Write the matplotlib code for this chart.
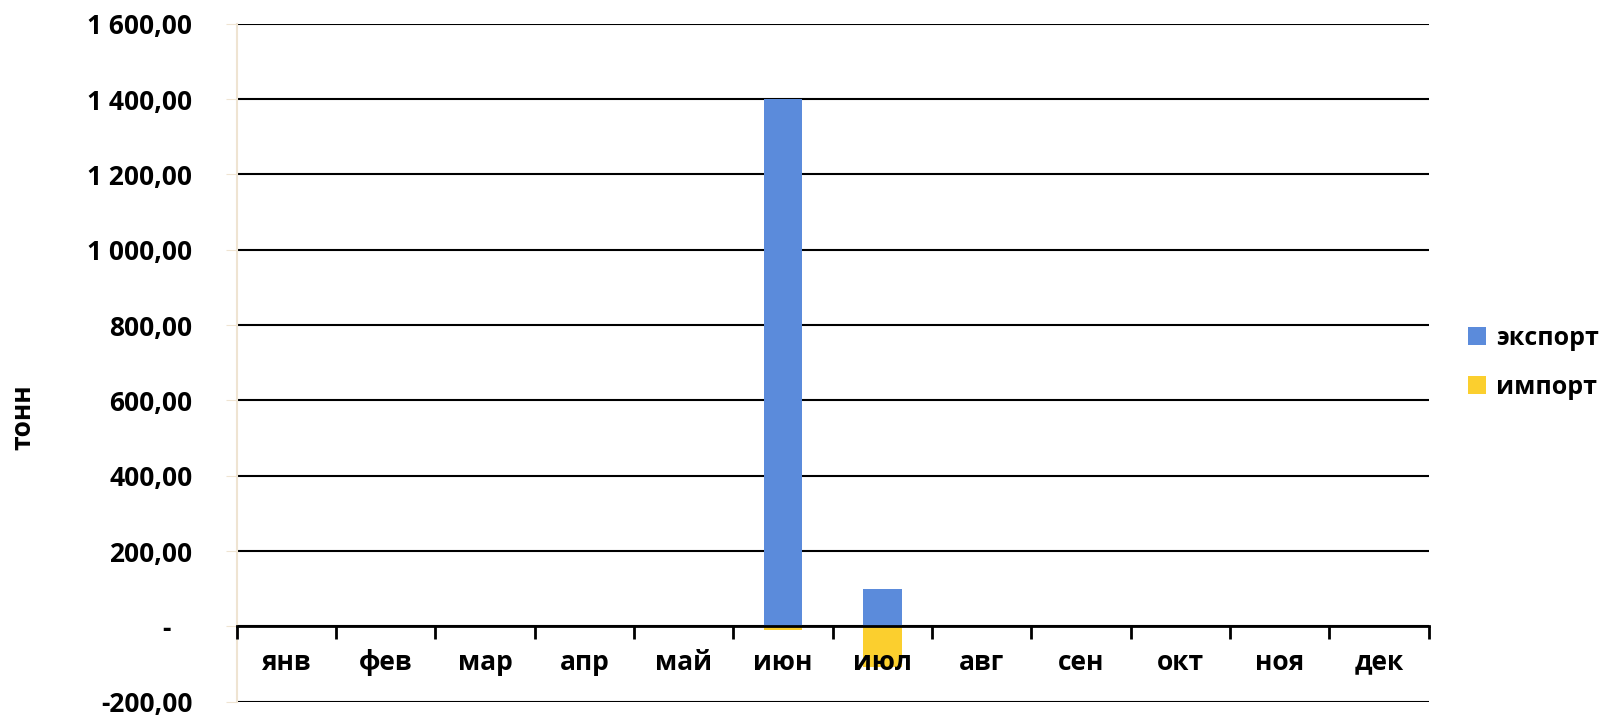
import matplotlib.pyplot as plt
import matplotlib.ticker as mticker

months = ['янв', 'фев', 'мар', 'апр', 'май', 'июн', 'июл', 'авг', 'сен', 'окт', 'ноя', 'дек']
export_vals = [0, 0, 0, 0, 0, 1400, 100, 0, 0, 0, 0, 0]
import_vals = [0, 0, 0, 0, 0, -8, -107, 0, 0, 0, 0, 0]
y_ticks = [-200, 0, 200, 400, 600, 800, 1000, 1200, 1400, 1600]

plt.rcParams['font.family'] = ['Open Sans', 'DejaVu Sans']
plt.rcParams['font.weight'] = 'bold'

fig = plt.figure(figsize=(16.08, 7.18), dpi=100)
ax = fig.add_axes([0.1472, 0.0225, 0.8884 - 0.1472, 0.967 - 0.0225])

x = list(range(len(months)))
ax.bar(x, export_vals, width=0.39, color='#5B8BDB', label='экспорт', zorder=3)
ax.bar(x, import_vals, width=0.39, color='#FBCF2E', label='импорт', zorder=3)

ax.set_xlim(-0.5, 11.5)
ax.set_ylim(-200, 1600)


def fmt(v, pos):
    if v == 0:
        return '-   '
    s = '{:,.2f}'.format(v).replace(',', ' ').replace('.', ',')
    return s


ax.yaxis.set_major_locator(mticker.FixedLocator(y_ticks))
ax.yaxis.set_major_formatter(mticker.FuncFormatter(fmt))
ax.grid(axis='y', color='black', linewidth=1.5)
ax.tick_params(axis='y', length=8, color='#EFE4D2', labelsize=19, pad=24)
for lab in ax.get_yticklabels():
    lab.set_fontweight('bold')

# x axis on the zero line, ticks at the month boundaries
ax.spines['bottom'].set_position(('data', 0))
ax.spines['bottom'].set_linewidth(2)
ax.spines['bottom'].set_zorder(4)
ax.spines['left'].set_color('#EFE4D2')
ax.spines['left'].set_linewidth(1.5)
ax.spines['top'].set_visible(False)
ax.spines['right'].set_visible(False)

ax.set_xticks([i - 0.5 for i in range(13)])
ax.set_xticklabels([])
ax.set_xticks(x, minor=True)
ax.set_xticklabels(months, minor=True, fontsize=19, fontweight='bold')
ax.tick_params(axis='x', which='major', length=9, width=2, direction='out')
ax.tick_params(axis='x', which='minor', length=0, pad=16)

# grid behind the bars, month labels on top of them
ax.yaxis.set_zorder(1)
ax.xaxis.set_zorder(5)

ax.set_ylabel('тонн', fontsize=19, fontweight='bold', labelpad=0)
ax.yaxis.set_label_coords(-0.168, 0.42)

ax.legend(loc='center left', bbox_to_anchor=(1.025, 0.5), frameon=False,
          handlelength=0.7, handleheight=0.7, handletextpad=0.4,
          labelspacing=0.95, borderaxespad=0, prop={'weight': 'bold', 'size': 18})

fig.savefig('out.png', dpi=100)
